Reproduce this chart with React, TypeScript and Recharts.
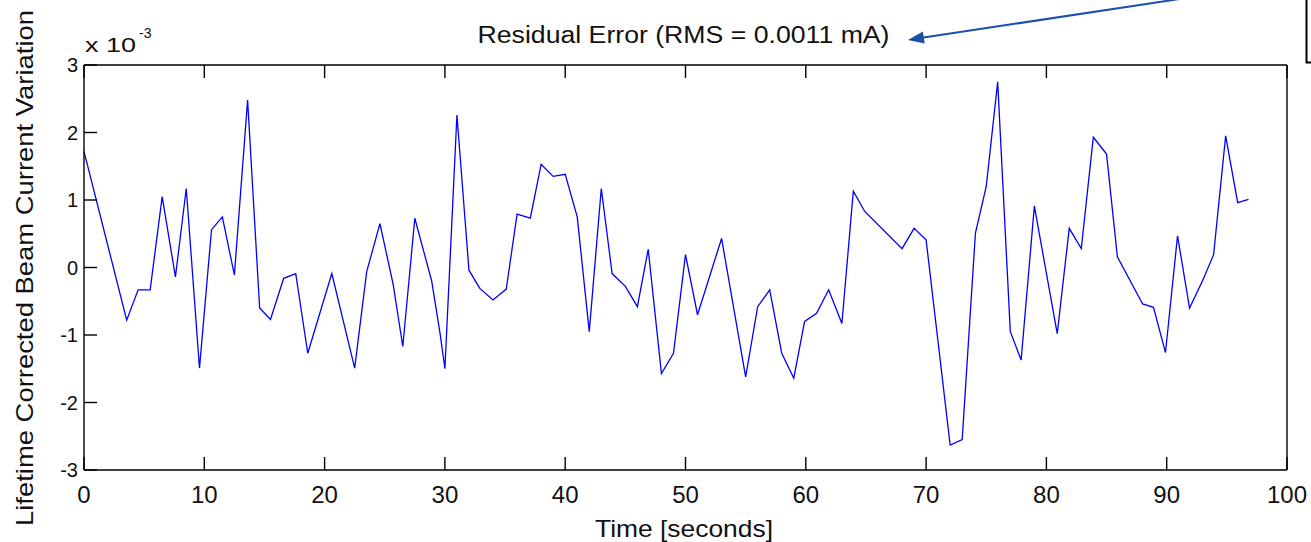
import { LineChart, Line, XAxis, YAxis } from 'recharts';

// residual error samples (units of 1e-3 mA)
const timeSeconds = [
  0, 3.55, 4.5, 5.5, 6.5, 7.6, 8.5, 9.6, 10.6, 11.5, 12.5, 13.6, 14.6, 15.5, 16.6, 17.6, 18.6, 20.6,
  22.5, 23.5, 24.6, 25.7, 26.5, 27.5, 28.9, 29.6, 30.0, 31.0, 32.0, 32.9, 34.0, 35.1, 36.0, 37.1,
  38.0, 39.0, 40.0, 41.0, 42.0, 43.0, 43.9, 45.0, 46.0, 46.9, 48.0, 49.0, 50.0, 51.0, 53.0, 55.0,
  56.0, 57.0, 58.0, 59.0, 59.9, 60.9, 61.9, 63.0, 63.95, 64.9, 68.0, 69.0, 70.0, 72.0, 73.0, 74.1,
  75.0, 75.95, 77.0, 77.9, 79.0, 80.9, 81.9, 82.9, 83.9, 85.0, 85.9, 88.0, 88.9, 89.9, 90.9, 91.9,
  93.0, 93.9, 94.9, 95.9, 96.8,
];
const residual = [
  1.72, -0.78, -0.33, -0.33, 1.05, -0.14, 1.17, -1.49, 0.56, 0.75, -0.11, 2.48, -0.6, -0.77, -0.16, -0.09, -1.27, -0.09,
  -1.49, -0.06, 0.65, -0.25, -1.17, 0.73, -0.2, -0.98, -1.5, 2.26, -0.04, -0.31, -0.48, -0.32, 0.79, 0.73,
  1.53, 1.35, 1.38, 0.75, -0.95, 1.17, -0.09, -0.28, -0.58, 0.27, -1.57, -1.27, 0.19, -0.7, 0.43, -1.62,
  -0.58, -0.33, -1.27, -1.64, -0.8, -0.68, -0.33, -0.83, 1.13, 0.83, 0.28, 0.58, 0.41, -2.63, -2.55, 0.51,
  1.2, 2.75, -0.95, -1.37, 0.91, -0.98, 0.58, 0.28, 1.93, 1.68, 0.16, -0.54, -0.59, -1.26, 0.47, -0.6,
  -0.19, 0.19, 1.95, 0.96, 1.01,
];
const xTicks = [0, 10, 20, 30, 40, 50, 60, 70, 80, 90, 100];
const yTicks = [-3, -2, -1, 0, 1, 2, 3];

const data = timeSeconds.map((t, i) => ({ t, r: residual[i] }));

const FONT = '"Liberation Sans", Arial, Helvetica, sans-serif';
const TICK_LEN = 13;
const AXIS = { stroke: '#000', strokeWidth: 1.4 };

const BottomTick = (props: any) => {
  const { x, y, payload } = props;
  return (
    <g>
      <line x1={x} y1={y} x2={x} y2={y - TICK_LEN} stroke="#000" strokeWidth={1.4} />
      <text x={x} y={y + 33} textAnchor="middle" fontSize={24} fontFamily={FONT} fill="#111">
        {payload.value}
      </text>
    </g>
  );
};

const TopTick = (props: any) => {
  const { x, y } = props;
  return <line x1={x} y1={y} x2={x} y2={y + TICK_LEN} stroke="#000" strokeWidth={1.4} />;
};

const LeftTick = (props: any) => {
  const { x, y, payload } = props;
  return (
    <g>
      <line x1={x} y1={y} x2={x + TICK_LEN} y2={y} stroke="#000" strokeWidth={1.4} />
      <text x={x - 6} y={y + 7} textAnchor="end" fontSize={20} fontFamily={FONT} fill="#111">
        {payload.value}
      </text>
    </g>
  );
};

const RightTick = (props: any) => {
  const { x, y } = props;
  return <line x1={x} y1={y} x2={x - TICK_LEN} y2={y} stroke="#000" strokeWidth={1.4} />;
};

export default function App() {
  return (
    <div style={{ position: 'absolute', left: 0, top: 0, width: 1311, height: 542, background: '#fff' }}>
      <LineChart
        width={1311}
        height={542}
        data={data}
        margin={{ top: 45, right: 4, bottom: 52, left: 64 }}
      >
        <XAxis
          dataKey="t"
          type="number"
          domain={[0, 100]}
          ticks={xTicks}
          interval={0}
          height={20}
          tickSize={0}
          tickMargin={0}
          tickLine={false}
          axisLine={AXIS}
          tick={<BottomTick />}
        />
        <XAxis
          xAxisId="top"
          orientation="top"
          dataKey="t"
          type="number"
          domain={[0, 100]}
          ticks={xTicks}
          interval={0}
          height={20}
          tickSize={0}
          tickMargin={0}
          tickLine={false}
          axisLine={AXIS}
          tick={<TopTick />}
        />
        <YAxis
          type="number"
          domain={[-3, 3]}
          ticks={yTicks}
          interval={0}
          width={20}
          tickSize={0}
          tickMargin={0}
          tickLine={false}
          axisLine={AXIS}
          tick={<LeftTick />}
        />
        <YAxis
          yAxisId="right"
          orientation="right"
          type="number"
          domain={[-3, 3]}
          ticks={yTicks}
          interval={0}
          width={20}
          tickSize={0}
          tickMargin={0}
          tickLine={false}
          axisLine={AXIS}
          tick={<RightTick />}
        />
        <Line
          dataKey="r"
          type="linear"
          stroke="#0000ff"
          strokeWidth={1.3}
          dot={false}
          isAnimationActive={false}
        />
      </LineChart>
      <svg
        width={1311}
        height={542}
        style={{ position: 'absolute', left: 0, top: 0, pointerEvents: 'none' }}
      >
        <text x={683.5} y={43} textAnchor="middle" fontSize={23} fontFamily={FONT} fill="#111"
          textLength={412} lengthAdjust="spacingAndGlyphs">
          Residual Error (RMS = 0.0011 mA)
        </text>
        <text x={85} y={52} fontSize={21} fontFamily={FONT} fill="#111" textLength={51} lengthAdjust="spacingAndGlyphs">
          x 10
        </text>
        <text x={139} y={38} fontSize={14} fontFamily={FONT} fill="#111">-3</text>
        <text
          x={33}
          y={268}
          transform="rotate(-90 33 268)"
          textAnchor="middle"
          fontSize={24}
          fontFamily={FONT}
          fill="#111"
          textLength={516}
          lengthAdjust="spacingAndGlyphs"
        >
          Lifetime Corrected Beam Current Variation
        </text>
        <text x={684} y={537} textAnchor="middle" fontSize={24} fontFamily={FONT} fill="#111"
          textLength={178} lengthAdjust="spacingAndGlyphs">
          Time [seconds]
        </text>
        <line x1={1186} y1={-2} x2={922} y2={37.8} stroke="#1c4fa8" strokeWidth={2} />
        <polygon points="908,40 924.7,43.5 922.9,31.6" fill="#1c4fa8" />
        <path d="M1306.5 0 V62.5 H1311" fill="none" stroke="#000" strokeWidth={2} />
      </svg>
    </div>
  );
}
